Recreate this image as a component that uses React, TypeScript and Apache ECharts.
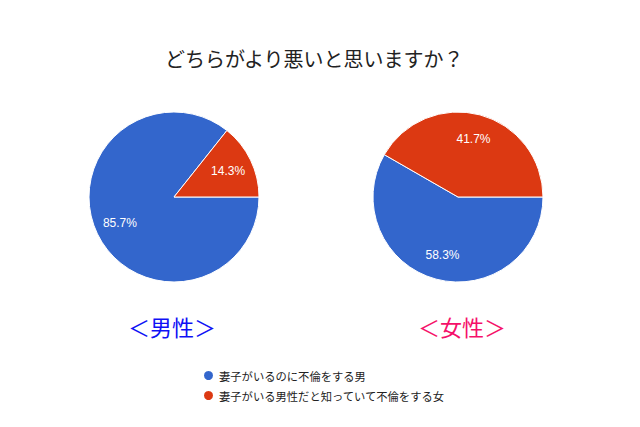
import React, { useEffect, useRef } from "react";
import * as echarts from "echarts";

const title = "どちらがより悪いと思いますか？";
const categories = ["妻子がいるのに不倫をする男", "妻子がいる男性だと知っていて不倫をする女"];
const maleValues = [85.7, 14.3];
const femaleValues = [58.3, 41.7];
const groupLabels = ["＜男性＞", "＜女性＞"];
const colors = ["#3366CC", "#DC3912"];

export default function App() {
  const ref = useRef<HTMLDivElement>(null);
  useEffect(() => {
    document.body.style.margin = "0";
    const chart = echarts.init(ref.current!, null, { renderer: "svg" });
    const mk = (vals: number[]) => vals.map((v, i) => ({ name: categories[i], value: v }));
    const basePie = (center: [number, number], vals: number[]) => ({
      type: "pie",
      center,
      radius: [0, 85],
      startAngle: 0,
      clockwise: true,
      data: mk(vals),
      label: { show: false },
      labelLine: { show: false },
      itemStyle: { borderColor: "#fff", borderWidth: 1 },
      emphasis: { disabled: true },
      silent: true,
    });
    const labelPie = (center: [number, number], vals: number[]) => ({
      type: "pie",
      center,
      radius: [29, 85],
      startAngle: 0,
      clockwise: true,
      data: mk(vals),
      itemStyle: { color: "transparent", borderWidth: 0 },
      label: {
        show: true,
        position: "inside",
        formatter: (p: any) => p.value.toFixed(1) + "%",
        color: "#fff",
        fontSize: 12,
        fontFamily: "Liberation Sans, Arial, sans-serif",
      },
      labelLine: { show: false },
      emphasis: { disabled: true },
      silent: true,
      legendHoverLink: false,
    });
    chart.setOption({
      animation: false,
      color: colors,
      title: {
        text: title,
        left: 160,
        top: 43,
        textStyle: {
          fontSize: 20,
          fontWeight: "normal",
          color: "#222",
          fontFamily: "Noto Sans CJK JP",
        },
      },
      legend: {
        orient: "vertical",
        left: 197,
        top: 364,
        icon: "circle",
        itemWidth: 11,
        itemHeight: 11,
        itemGap: 7,
        data: categories.map((c, i) => ({ name: c, itemStyle: { color: colors[i] } })),
        textStyle: { fontSize: 11.3, color: "#222", fontFamily: "Noto Sans CJK JP" },
        selectedMode: false,
      },
      series: [
        basePie([174, 197], maleValues),
        basePie([458, 197], femaleValues),
        labelPie([174, 197], maleValues),
        labelPie([458, 197], femaleValues),
      ],
      graphic: [
        {
          type: "text",
          x: 172,
          y: 326,
          style: {
            text: groupLabels[0],
            fill: "#1010F5",
            fontSize: 22,
            fontFamily: "Noto Sans CJK JP",
            align: "center",
            verticalAlign: "middle",
          },
        },
        {
          type: "text",
          x: 462,
          y: 326,
          style: {
            text: groupLabels[1],
            fill: "#F5106A",
            fontSize: 22,
            fontFamily: "Noto Sans CJK JP",
            align: "center",
            verticalAlign: "middle",
          },
        },
      ],
    });
    return () => chart.dispose();
  }, []);
  return <div ref={ref} style={{ width: 640, height: 427 }} />;
}
